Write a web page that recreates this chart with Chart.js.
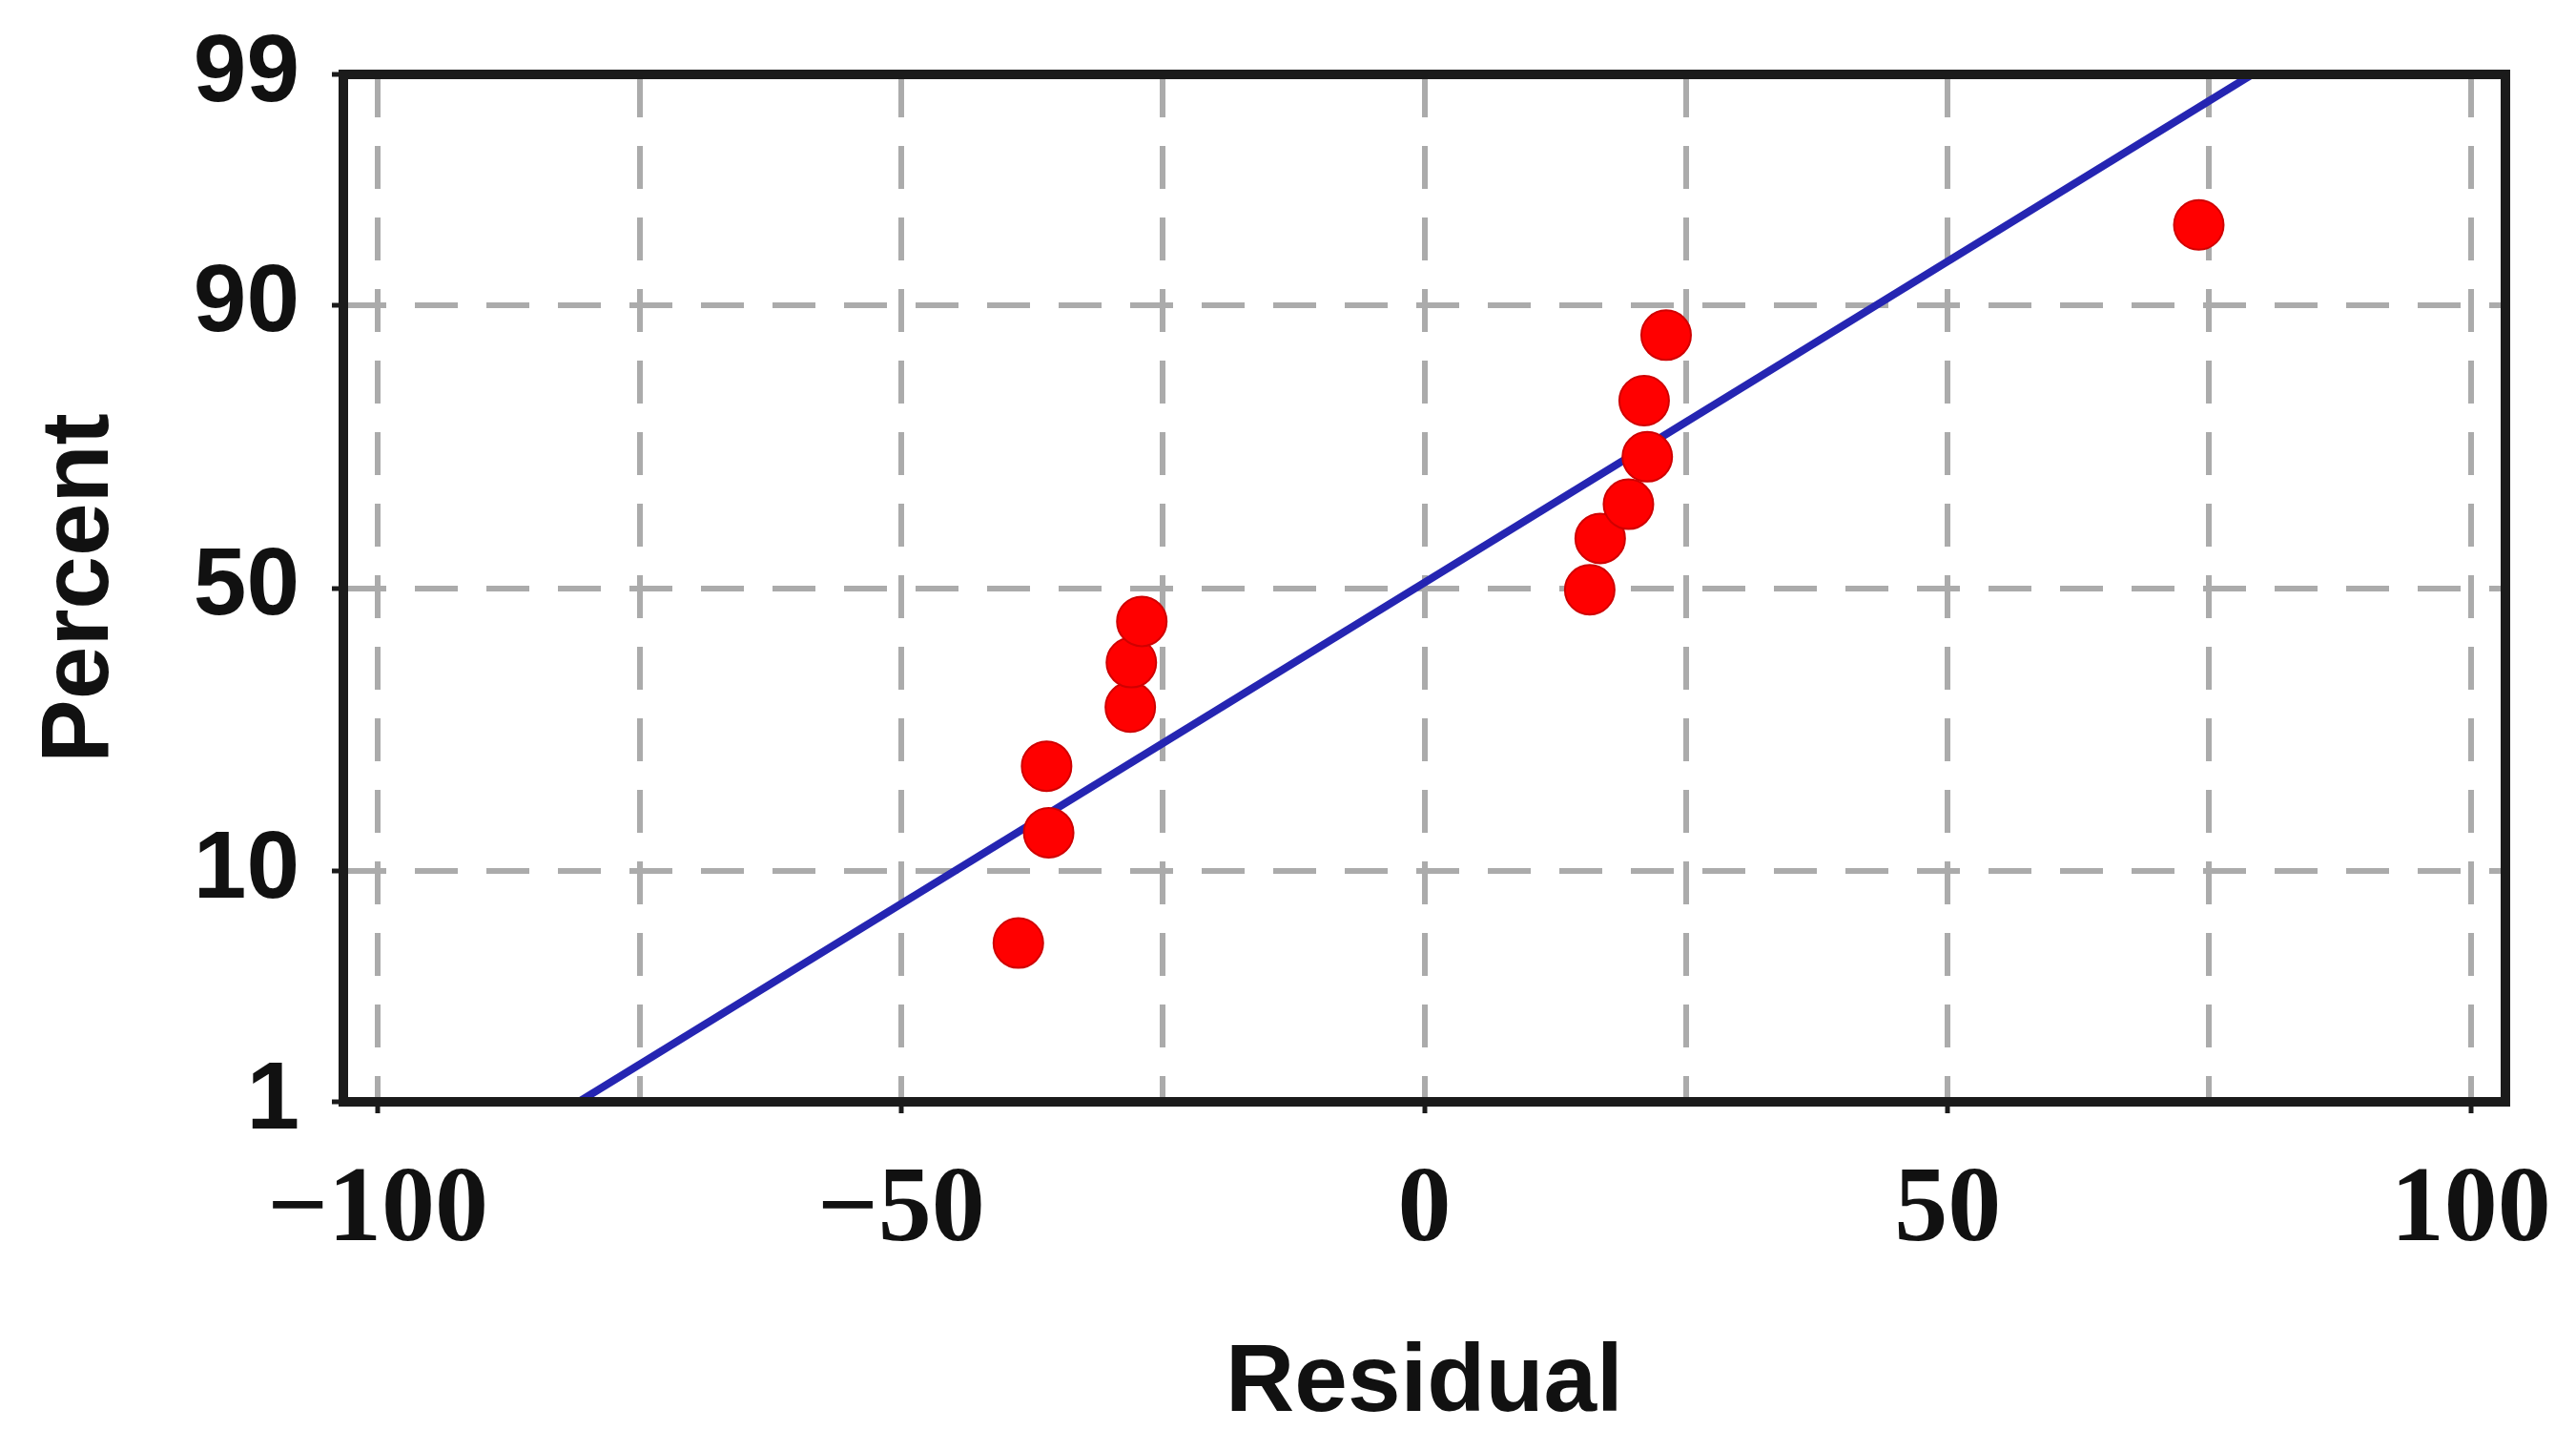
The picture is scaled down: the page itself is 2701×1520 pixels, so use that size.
<!DOCTYPE html>
<html>
<head>
<meta charset="utf-8">
<title>Normal probability plot of residuals</title>
<script src="https://cdn.jsdelivr.net/npm/chart.js@4.4.1/dist/chart.umd.min.js"></script>
<style>
  html, body { margin: 0; padding: 0; background: #ffffff; }
  canvas { display: block; background: #ffffff; }
</style>
</head>
<body>
<canvas id="c" width="2701" height="1520"></canvas>
<script>
// ---- data ----
const residuals = [-38.8, -35.9, -36.1, -28.1, -28.0, -27.0, 15.8, 16.8, 19.5, 21.3, 21.0, 23.1, 74.0];
const percents  = [5.4, 13.4, 21.0, 29.5, 36.8, 44.0, 49.7, 58.9, 64.8, 72.4, 80.2, 87.4, 95.0];

// fitted reference line (end points on the frame)
const fitResidual = [-80.8, 79.1];
const fitPercent  = [1, 99];

// axis ticks
const xGridValues   = [-100, -75, -50, -25, 0, 25, 50, 75, 100];
const xLabelValues  = [-100, -50, 0, 50, 100];
const xTickLabels   = ['\u2212100', '\u221250', '0', '50', '100'];
const yTickPercents = [1, 10, 50, 90, 99];
const yTickLabels   = ['1', '10', '50', '90', '99'];

const xTitle = 'Residual';
const yTitle = 'Percent';

// ---- inverse standard normal CDF (probability-paper scale) ----
function probit(p) {
  const a = [-3.969683028665376e+01, 2.209460984245205e+02, -2.759285104469687e+02,
             1.383577518672690e+02, -3.066479806614716e+01, 2.506628277459239e+00];
  const b = [-5.447609879822406e+01, 1.615858368580409e+02, -1.556989798598866e+02,
             6.680131188771972e+01, -1.328068155288572e+01];
  const c = [-7.784894002430293e-03, -3.223964580411365e-01, -2.400758277161838e+00,
             -2.549732539343734e+00, 4.374664141464968e+00, 2.938163982698783e+00];
  const d = [7.784695709041462e-03, 3.224671290700398e-01, 2.445134137142996e+00,
             3.754408661907416e+00];
  const pl = 0.02425, ph = 1 - pl;
  let q, r;
  if (p < pl) {
    q = Math.sqrt(-2 * Math.log(p));
    return (((((c[0]*q+c[1])*q+c[2])*q+c[3])*q+c[4])*q+c[5]) / ((((d[0]*q+d[1])*q+d[2])*q+d[3])*q+1);
  } else if (p <= ph) {
    q = p - 0.5; r = q * q;
    return (((((a[0]*r+a[1])*r+a[2])*r+a[3])*r+a[4])*r+a[5])*q / (((((b[0]*r+b[1])*r+b[2])*r+b[3])*r+b[4])*r+1);
  } else {
    q = Math.sqrt(-2 * Math.log(1 - p));
    return -(((((c[0]*q+c[1])*q+c[2])*q+c[3])*q+c[4])*q+c[5]) / ((((d[0]*q+d[1])*q+d[2])*q+d[3])*q+1);
  }
}

const pointData = residuals.map((x, i) => ({ x: x, y: probit(percents[i] / 100) }));
const fitData = fitResidual.map((x, i) => ({ x: x, y: probit(fitPercent[i] / 100) }));
const yTickValues = yTickPercents.map(p => probit(p / 100));

const framePlugin = {
  id: 'frame',
  afterDraw(chart) {
    const { ctx, chartArea: a } = chart;
    ctx.save();
    ctx.strokeStyle = '#1b1b1b';
    ctx.lineWidth = 10;
    ctx.strokeRect(a.left, a.top, a.right - a.left, a.bottom - a.top);
    ctx.restore();
  }
};

const W = 2701, H = 1520;
const AREA_LEFT = 360, AREA_TOP = 78, AREA_RIGHT = 2627, AREA_BOTTOM = 1155;

new Chart(document.getElementById('c'), {
  type: 'scatter',
  data: {
    datasets: [
      {
        label: 'Residuals',
        data: pointData,
        backgroundColor: '#ff0000',
        borderColor: '#d00000',
        borderWidth: 2,
        pointRadius: 26,
        pointHoverRadius: 26,
        order: 1
      },
      {
        label: 'Fit',
        data: fitData,
        showLine: true,
        borderColor: '#2525b2',
        borderWidth: 8,
        pointRadius: 0,
        pointHoverRadius: 0,
        order: 2
      }
    ]
  },
  options: {
    responsive: false,
    animation: false,
    devicePixelRatio: 1,
    layout: { padding: { left: 0, right: W - AREA_RIGHT, top: AREA_TOP, bottom: 0 } },
    plugins: { legend: { display: false }, tooltip: { enabled: false } },
    scales: {
      x: {
        type: 'linear',
        min: -103.3,
        max: 103.3,
        afterBuildTicks: s => { s.ticks = xGridValues.map(v => ({ value: v })); },
        afterFit: s => { s.height = H - AREA_BOTTOM; s.paddingLeft = 0; s.paddingRight = 0; },
        ticks: {
          autoSkip: false,
          maxRotation: 0,
          minRotation: 0,
          padding: 37,
          color: '#111111',
          font: { family: 'Liberation Serif', size: 112, weight: 'bold' },
          callback: v => {
            const k = xLabelValues.indexOf(v);
            return k >= 0 ? xTickLabels[k] : '';
          }
        },
        grid: {
          color: '#ababab',
          lineWidth: 6,
          tickLength: 12,
          tickWidth: 5,
          tickColor: c => (c.tick && xLabelValues.indexOf(c.tick.value) >= 0) ? '#1b1b1b' : 'rgba(0,0,0,0)'
        },
        border: { display: false, dash: [45, 30] },
        title: {
          display: true,
          text: xTitle,
          color: '#111111',
          font: { family: 'Liberation Sans', size: 100, weight: 'bold' },
          padding: { top: 0, bottom: 9 }
        }
      },
      y: {
        type: 'linear',
        min: probit(0.01),
        max: probit(0.99),
        afterBuildTicks: s => { s.ticks = yTickValues.map(v => ({ value: v })); },
        afterFit: s => { s.width = AREA_LEFT; s.paddingTop = 0; s.paddingBottom = 0; },
        ticks: {
          autoSkip: false,
          padding: 34,
          color: '#111111',
          font: { family: 'Liberation Sans', size: 100, weight: 'bold' },
          callback: (v, i) => yTickLabels[i]
        },
        grid: {
          color: '#ababab',
          lineWidth: 6,
          tickLength: 12,
          tickWidth: 5,
          tickColor: '#1b1b1b'
        },
        border: { display: false, dash: [45, 30] },
        title: {
          display: true,
          text: yTitle,
          color: '#111111',
          font: { family: 'Liberation Sans', size: 100, weight: 'bold' },
          padding: { top: 25, bottom: 0 }
        }
      }
    }
  },
  plugins: [framePlugin]
});
</script>
</body>
</html>
